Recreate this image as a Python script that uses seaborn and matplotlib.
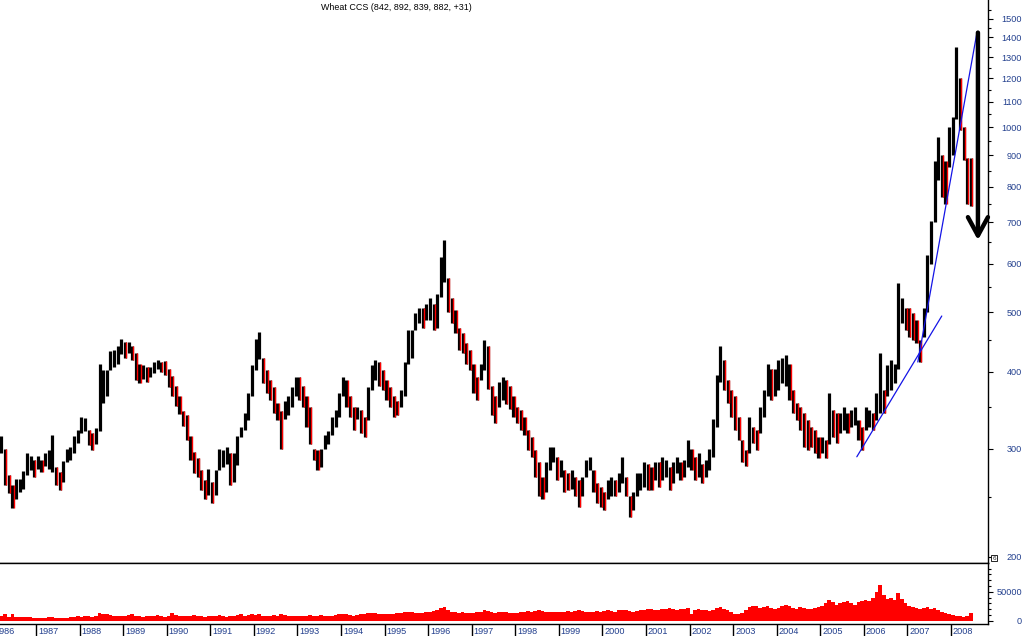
import numpy as np
import pandas as pd
import matplotlib
matplotlib.use("Agg")
import matplotlib.pyplot as plt
import matplotlib.transforms as mtransforms
from matplotlib.ticker import FixedLocator, NullFormatter
import seaborn as sns

sns.set_theme(style="white")
plt.rcParams['font.family'] = ['Liberation Sans', 'DejaVu Sans']

# monthly bars, first month = March 1986
first_year, first_month = 1986, 3

lows = [
    295, 262, 254, 240, 248, 255, 258, 272, 277, 270,                 # 1986
    278, 275, 281, 278, 275, 262, 257, 265, 285, 288, 295, 306,       # 1987
    318, 320, 304, 298, 305, 320, 356, 365, 403, 408, 412, 428,       # 1988
    422, 430, 418, 388, 383, 390, 385, 393, 398, 405, 400, 395,       # 1989
    378, 365, 352, 342, 326, 310, 288, 274, 270, 257, 248, 252,       # 1990
    245, 252, 277, 280, 283, 262, 265, 282, 313, 322, 334, 365,       # 1991
    403, 420, 383, 370, 360, 343, 334, 300, 335, 340, 350, 365,       # 1992
    360, 350, 325, 305, 288, 277, 280, 300, 305, 316, 325, 338,       # 1993
    365, 350, 338, 322, 335, 318, 313, 334, 374, 388, 380, 374,       # 1994
    360, 350, 338, 340, 350, 365, 412, 422, 468, 480, 472, 486,       # 1995
    486, 468, 472, 530, 560, 500, 480, 462, 434, 430, 412, 403,       # 1996
    370, 360, 388, 403, 375, 340, 330, 350, 360, 355, 348, 338,       # 1997
    330, 322, 316, 298, 291, 270, 251, 248, 255, 277, 285, 267,       # 1998
    270, 255, 257, 258, 251, 241, 251, 270, 277, 255, 245, 241,       # 1999
    238, 248, 251, 251, 255, 264, 251, 232, 238, 251, 257, 260,       # 2000
    257, 257, 267, 260, 267, 270, 257, 264, 274, 267, 270, 280,       # 2001
    277, 267, 270, 264, 270, 277, 291, 325, 385, 374, 356, 338,       # 2002
    322, 310, 285, 281, 295, 306, 298, 318, 338, 365, 360, 365,       # 2003
    374, 383, 380, 360, 343, 334, 322, 302, 298, 302, 295, 290,       # 2004
    295, 290, 305, 313, 306, 318, 322, 318, 325, 328, 310, 298,       # 2005
    322, 325, 322, 334, 343, 343, 365, 374, 383, 405, 480, 468,       # 2006
    455, 451, 445, 415, 455, 500, 600, 700, 820, 770, 750, 860,       # 2007
    900, 1030, 990, 885, 750, 745,                                    # 2008
]
highs = [
    314, 300, 272, 262, 268, 268, 276, 295, 292, 288,
    292, 288, 295, 298, 316, 280, 275, 286, 300, 302, 314, 322,
    338, 336, 322, 318, 324, 412, 403, 403, 432, 434, 440, 452,
    448, 448, 440, 430, 412, 410, 408, 408, 415, 418, 415, 416,
    405, 394, 380, 366, 345, 340, 314, 296, 290, 277, 267, 278,
    265, 277, 300, 298, 302, 295, 295, 315, 325, 343, 370, 410,
    452, 465, 422, 403, 388, 378, 356, 345, 358, 365, 378, 392,
    392, 380, 365, 350, 300, 298, 300, 316, 320, 338, 347, 370,
    392, 388, 365, 350, 350, 347, 338, 378, 410, 418, 415, 403,
    388, 378, 365, 358, 374, 415, 468, 468, 498, 508, 508, 515,
    528, 515, 535, 615, 656, 568, 528, 505, 472, 462, 445, 434,
    412, 392, 412, 451, 440, 380, 365, 385, 392, 388, 380, 365,
    350, 347, 338, 322, 313, 298, 285, 270, 285, 302, 302, 291,
    288, 277, 274, 277, 270, 267, 270, 288, 291, 277, 264, 260,
    255, 267, 270, 267, 274, 291, 270, 251, 255, 274, 274, 285,
    283, 280, 285, 285, 291, 288, 280, 285, 291, 285, 288, 310,
    300, 291, 295, 283, 288, 300, 335, 395, 440, 418, 388, 374,
    365, 338, 310, 298, 338, 325, 322, 350, 374, 412, 405, 405,
    418, 422, 426, 412, 374, 356, 350, 343, 334, 325, 322, 313,
    313, 310, 370, 347, 343, 343, 350, 343, 347, 350, 334, 325,
    350, 347, 343, 370, 430, 374, 410, 418, 412, 557, 528, 508,
    508, 498, 486, 451, 508, 620, 705, 880, 965, 900, 880, 1000,
    1040, 1350, 1200, 1000, 890, 892,
]
volume = [
    8000, 11000, 7000, 12000, 7000, 6000, 6500, 7000, 6000, 5500,
    5000, 5500, 5000, 6000, 7000, 5000, 5000, 4500, 5500, 6000, 7000, 8000,
    7000, 9000, 8000, 7000, 9000, 14000, 12000, 11000, 10000, 9000, 8000, 9000,
    9000, 10000, 11000, 9000, 8000, 7000, 9000, 8000, 9000, 10000, 8000, 7000,
    9000, 14000, 10000, 9000, 8000, 8000, 9000, 10000, 8000, 9000, 7000, 8000,
    8000, 9000, 10000, 8000, 7000, 8000, 9000, 10000, 11000, 9000, 10000, 11000,
    10000, 11000, 9000, 8000, 9000, 10000, 9000, 11000, 10000, 9000, 8000, 9000,
    9000, 8000, 9000, 10000, 9000, 8000, 10000, 9000, 8000, 9000, 10000, 11000,
    11000, 12000, 10000, 9000, 10000, 11000, 12000, 13000, 14000, 13000, 12000, 11000,
    12000, 11000, 12000, 13000, 14000, 15000, 16000, 15000, 14000, 13000, 14000, 15000,
    16000, 17000, 18000, 22000, 24000, 18000, 16000, 15000, 14000, 15000, 14000, 13000,
    14000, 15000, 16000, 18000, 17000, 15000, 14000, 15000, 16000, 15000, 14000, 13000,
    14000, 15000, 16000, 17000, 16000, 17000, 18000, 17000, 16000, 15000, 16000, 15000,
    15000, 16000, 17000, 16000, 17000, 18000, 17000, 16000, 15000, 16000, 17000, 16000,
    17000, 18000, 17000, 16000, 18000, 19000, 18000, 17000, 16000, 17000, 18000, 19000,
    20000, 21000, 19000, 18000, 20000, 21000, 22000, 20000, 19000, 20000, 21000, 22000,
    12000, 18000, 20000, 19000, 18000, 17000, 19000, 22000, 24000, 20000, 18000, 16000,
    12000, 11000, 14000, 18000, 24000, 26000, 25000, 22000, 24000, 25000, 22000, 20000,
    22000, 26000, 28000, 25000, 22000, 20000, 24000, 22000, 21000, 20000, 22000, 24000,
    26000, 30000, 36000, 32000, 28000, 30000, 32000, 34000, 30000, 28000, 32000, 34000,
    36000, 34000, 40000, 50000, 62000, 45000, 38000, 40000, 36000, 48000, 38000, 30000,
    26000, 24000, 22000, 20000, 22000, 24000, 20000, 22000, 18000, 16000, 14000, 12000,
    10000, 9000, 8000, 7000, 9000, 14000,
]

# hand-drawn trend lines (decimal year, price) and the arrow
trend_a_dates = [2005.84, 2007.79]
trend_a_prices = [291, 493]
trend_b_dates = [2007.24, 2008.60]
trend_b_prices = [415, 1428]
arrow_date = 2008.62
arrow_from, arrow_to = 1425, 655

price_ticks = [200, 300, 400, 500, 600, 700, 800, 900, 1000, 1100, 1200, 1300, 1400, 1500]
price_minor = [250, 350, 450, 550, 650, 750, 850, 950, 1050, 1150, 1250, 1350, 1450, 1550]
vol_ticks = [0, 50000]
vol_minor = [10000, 20000, 30000, 40000, 60000, 70000, 80000, 90000]
years = list(range(1986, 2009))
title = "Wheat CCS (842, 892, 839, 882, +31)"

n = len(lows)
t = first_year + (first_month - 1 + np.arange(n) + 0.5) / 12
df = pd.DataFrame({"t": t, "low": lows, "high": highs, "vol": volume})
df["mid"] = (df["low"] + df["high"]) / 2
df["down"] = df["mid"].diff() < 0

x0, x1 = 1986.174, 2008.85
label_col = "#23408e"

fig = plt.figure(figsize=(10.24, 6.36), dpi=100)
fig.patch.set_facecolor("white")
ax = fig.add_axes([0, 0.1148, 0.9648, 0.8852])
axv = fig.add_axes([0, 0.01887, 0.9648, 0.09593])

# price bars
ax.vlines(df["t"], df["low"], df["high"], color="black", lw=2.3)
dn = df[df["down"]]
ax.vlines(dn["t"] + 0.028, dn["low"], dn["high"], color="red", lw=1.0)

sns.lineplot(x=trend_a_dates, y=trend_a_prices, ax=ax, color="#1414e6", lw=0.9)
sns.lineplot(x=trend_b_dates, y=trend_b_prices, ax=ax, color="#1414e6", lw=0.9)
ax.annotate("", xy=(arrow_date, arrow_to), xytext=(arrow_date, arrow_from),
            arrowprops=dict(arrowstyle="->,head_length=1.1,head_width=0.6",
                            lw=3.2, color="black", capstyle="round",
                            joinstyle="round", shrinkA=0, shrinkB=0))

ax.set_yscale("log")
ax.set_ylim(195.5, 1610)
ax.set_xlim(x0, x1)
ax.yaxis.tick_right()
ax.yaxis.set_major_locator(FixedLocator(price_ticks))
ax.yaxis.set_minor_locator(FixedLocator(price_minor))
ax.yaxis.set_minor_formatter(NullFormatter())
ax.set_yticklabels([str(v) for v in price_ticks])
ax.set_xticks([])
ax.tick_params(axis="y", which="major", direction="out", length=3.6, width=0.8,
               color="black", pad=21, labelsize=6.6, labelcolor=label_col)
ax.tick_params(axis="y", which="minor", direction="out", length=2.2, width=0.8,
               color="black")
plt.setp(ax.get_yticklabels(), ha="right")
for s in ["left", "top"]:
    ax.spines[s].set_visible(False)
for s in ["right", "bottom"]:
    ax.spines[s].set_color("black")
    ax.spines[s].set_linewidth(1.0)
ax.set_facecolor("white")

# volume, one bin per month weighted by volume
edges = first_year + (first_month - 1 + np.arange(n + 1)) / 12
sns.histplot(data=df, x="t", weights="vol", bins=list(edges), ax=axv,
             color="red", alpha=1, element="bars", linewidth=0)
axv.set_ylim(-5500, 99500)
axv.set_xlim(x0, x1)
axv.set_ylabel("")
axv.set_xlabel("")
axv.yaxis.tick_right()
axv.yaxis.set_major_locator(FixedLocator(vol_ticks))
axv.yaxis.set_minor_locator(FixedLocator(vol_minor))
axv.yaxis.set_minor_formatter(NullFormatter())
axv.set_yticklabels([str(v) for v in vol_ticks])
axv.tick_params(axis="y", which="major", direction="out", length=3.6, width=0.8,
                color="black", pad=21, labelsize=6.6, labelcolor=label_col)
axv.tick_params(axis="y", which="minor", direction="out", length=2.2, width=0.8,
                color="black")
plt.setp(axv.get_yticklabels(), ha="right")
axv.spines["left"].set_visible(False)
for s in ["right", "bottom", "top"]:
    axv.spines[s].set_color("black")
    axv.spines[s].set_linewidth(1.0)
axv.set_facecolor("white")

axv.xaxis.set_major_locator(FixedLocator(years))
axv.xaxis.set_major_formatter(NullFormatter())
axv.tick_params(axis="x", which="major", direction="out", length=8.6, width=1.0,
                color="black", bottom=True)
trans = mtransforms.blended_transform_factory(axv.transData, fig.transFigure)
off = mtransforms.ScaledTranslation(2 / 100, 0, fig.dpi_scale_trans)
for yr in years:
    axv.text(yr, 0.0, str(yr), transform=trans + off, ha="left", va="bottom",
             fontsize=6.6, color=label_col, clip_on=False)

fig.text(396 / 1024, 1 - 7 / 636, title, ha="center", va="center", fontsize=6.4,
         color="black")
fig.text(994 / 1024, 1 - 558 / 636, "6", ha="center", va="center", fontsize=4.5,
         bbox=dict(boxstyle="square,pad=0.15", fc="white", ec="black", lw=0.6))

fig.savefig("out.png", dpi=100, facecolor="white")
